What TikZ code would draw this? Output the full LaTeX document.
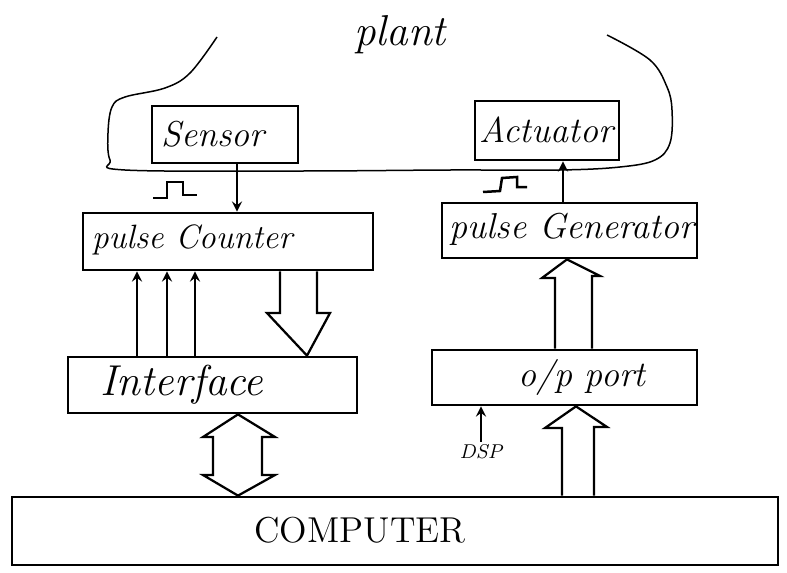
\documentclass[tikz,border=0pt]{standalone}
\usepackage{tikz}
\usetikzlibrary{positioning, calc, arrows}
\def\unitpx{0.4pt}

\begin{document}
\begin{tikzpicture}[
    x=0.4pt, y=-0.4pt,
    blk/.style={rectangle, draw, line width=1.1pt, inner sep=0pt},
    lbl/.style={font=\Large\itshape, inner sep=0pt},
    fat/.style={line width=0.9pt, line join=miter},
    sig/.style={->, >=stealth, line width=0.8pt},
    pulse/.style={line width=1pt}
]
    \useasboundingbox (0,0) rectangle (787,573);

    % PLANT
    \draw[semithick] plot[smooth, tension=0.6] coordinates {(217,37) (190,73) (165,88) (125,97) (112,107) (108,133) (110,160) (125,170) (300,171) (450,170) (560,170) (620,167) (655,160) (670,143) (672,110) (667,87) (650,60) (607,35)};
    \node (plant) [lbl, font=\LARGE\itshape] at (400,35) {plant};

    \node (sensor) [blk, minimum width=146*\unitpx, minimum height=57*\unitpx] at (225,134.5) {};
    \node (sensor-lbl) [lbl] at (213,134) {Sensor};
    \node (actuator) [blk, minimum width=144*\unitpx, minimum height=59*\unitpx] at (547,130.5) {};
    \node (actuator-lbl) [lbl] at (546,130) {Actuator};

    % LEFT: MEASUREMENT
    \node (counter) [blk, minimum width=290*\unitpx, minimum height=57*\unitpx] at (228,241.5) {};
    \node (counter-lbl) [lbl, font=\fontsize{13.5}{16}\selectfont\itshape] at (192,240) {pulse Counter};
    \node (interface) [blk, minimum width=289*\unitpx, minimum height=56*\unitpx] at (212.5,385) {};
    \node (interface-lbl) [lbl, font=\LARGE\itshape] at (182,385) {Interface};

    \draw[sig] (237,0 |- sensor.south) -- (237,0 |- counter.north);
    \draw[pulse] (153,198) -- (167,198) -- (167,182) -- (183,182) -- (183,195) -- (197,195);
    \foreach \xx in {137,167,195}
        \draw[sig] (\xx,0 |- interface.north) -- (\xx,0 |- counter.south);
    \draw[fat] (280,0 |- counter.south) -- (280,313) -- (267,313) -- (307,0 |- interface.north)
        -- (330,313) -- (317,313) -- (317,0 |- counter.south);

    % RIGHT: ACTUATION
    \node (generator) [blk, minimum width=255*\unitpx, minimum height=55*\unitpx] at (569.5,230.5) {};
    \node (generator-lbl) [lbl] at (572,229) {pulse Generator};
    \node (port) [blk, minimum width=265*\unitpx, minimum height=55*\unitpx] at (564.5,377.5) {};
    \node (port-lbl) [lbl] at (582,377) {o/p port};

    \draw[sig] (563,0 |- generator.north) -- (563,0 |- actuator.south);
    \draw[pulse] (483,192) -- (500,191) -- (502,178) -- (517,177) -- (517,187) -- (527,187);
    \draw[fat] (555,0 |- port.north) -- (555,278) -- (542,278) -- (567,0 |- generator.south)
        -- (600,276) -- (592,276) -- (592,0 |- port.north);

    \node (dsp) [font=\footnotesize\itshape, inner sep=1pt] at (481,452) {DSP};
    \draw[sig] (dsp.north) -- (dsp.north |- port.south);

    % COMPUTER
    \node (computer) [blk, minimum width=766*\unitpx, minimum height=68*\unitpx] at (395,531) {};
    \node (computer-lbl) [lbl, font=\Large] at (360,530) {COMPUTER};

    \draw[fat] (213,437) -- (203,437) -- (238,0 |- interface.south) -- (275,437) -- (262,437)
        -- (262,475) -- (275,475) -- (238,0 |- computer.north) -- (203,475) -- (213,475) -- cycle;
    \draw[fat] (562,0 |- computer.north) -- (562,428) -- (545,428) -- (576,0 |- port.south)
        -- (607,427) -- (594,427) -- (594,0 |- computer.north);
\end{tikzpicture}
\end{document}
